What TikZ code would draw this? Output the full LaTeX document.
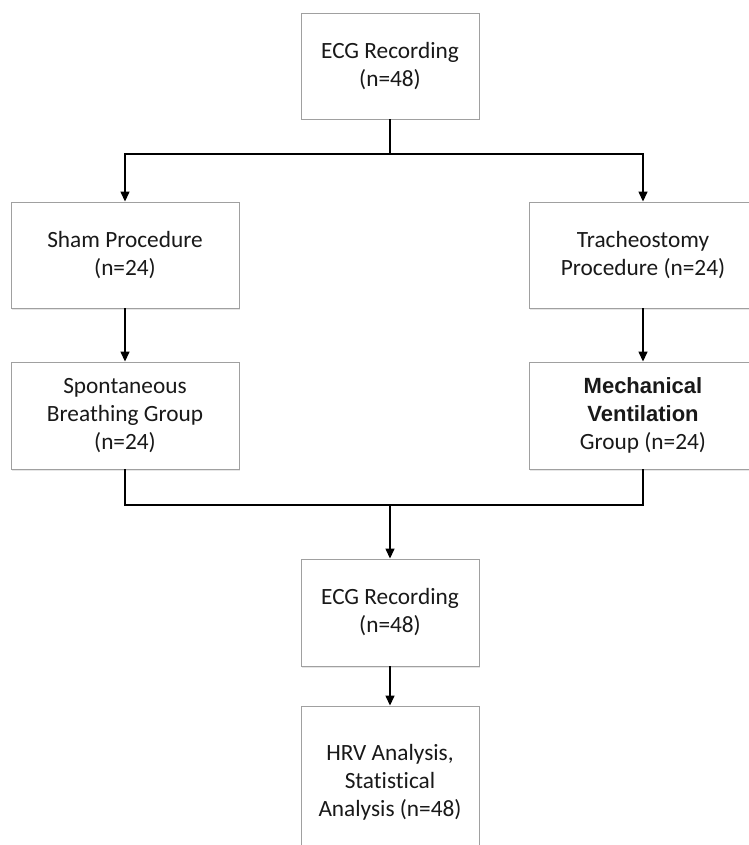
\documentclass[tikz,border=0pt]{standalone}
\usepackage{fontspec}
\setmainfont{Carlito}[Ligatures=NoCommon]
\newfontfamily\headfont{Liberation Sans}
\usepackage{xcolor}
\usepackage{tikz}
\usetikzlibrary{arrows.meta, positioning, shadows}
\definecolor{boxgray}{RGB}{160, 160, 160}
\definecolor{textgray}{RGB}{25, 25, 25}

\begin{document}
\begin{tikzpicture}[
    x=1pt, y=-1pt,
    every node/.style={font=\fontsize{23.3}{28}\selectfont, text=textgray},
    stagebox/.style={rectangle, draw=boxgray, fill=white, line width=0.9pt, align=center, minimum width=228pt, minimum height=106pt, inner sep=0pt, drop shadow={opacity=0.2, shadow xshift=1pt, shadow yshift=-1.5pt}},
    ecgbox/.style={stagebox, minimum width=178pt},
    arrow/.style={-{Triangle[length=10pt, width=9pt]}, line width=1.4pt, color=black},
    link/.style={line width=1.4pt, color=black}
]
\useasboundingbox (0,0) rectangle (748,845);

% First recording
\node[ecgbox] (ecgfirst) at (390,66) {ECG Recording\\(n=48)};

% Procedures
\node[stagebox] (sham) at (125,255) {Sham Procedure\\(n=24)};
\node[stagebox] (trach) at (643,255) {Tracheostomy\\Procedure (n=24)};

% Groups
\node[stagebox, minimum height=107pt] (spont) at (125,415.5) {Spontaneous\\Breathing Group\\(n=24)};
\node[stagebox, minimum height=107pt] (mech) at (643,415.5) {{\headfont\fontsize{22}{27}\selectfont\bfseries Mechanical}\\{\headfont\fontsize{22}{27}\selectfont\bfseries Ventilation}\\Group (n=24)};

% Second recording + analysis
\node[ecgbox, minimum height=107pt] (ecgsecond) at (390,612.5) {ECG Recording\\(n=48)};
\node[ecgbox, minimum height=152pt] (hrv) at (390,782) {HRV Analysis,\\Statistical\\Analysis (n=48)};

% Junctions
\coordinate (split) at (390,154);
\coordinate (merge) at (390,505);

% Arrows
\draw[link] (ecgfirst) -- (split);
\draw[arrow] (split) -| (sham);
\draw[arrow] (split) -| (trach);
\draw[arrow] (sham) -- (spont);
\draw[arrow] (trach) -- (mech);
\draw[link] (spont) |- (merge);
\draw[link] (mech) |- (merge);
\draw[arrow] (merge) -- (ecgsecond);
\draw[arrow] (ecgsecond) -- (hrv);

\end{tikzpicture}
\end{document}
